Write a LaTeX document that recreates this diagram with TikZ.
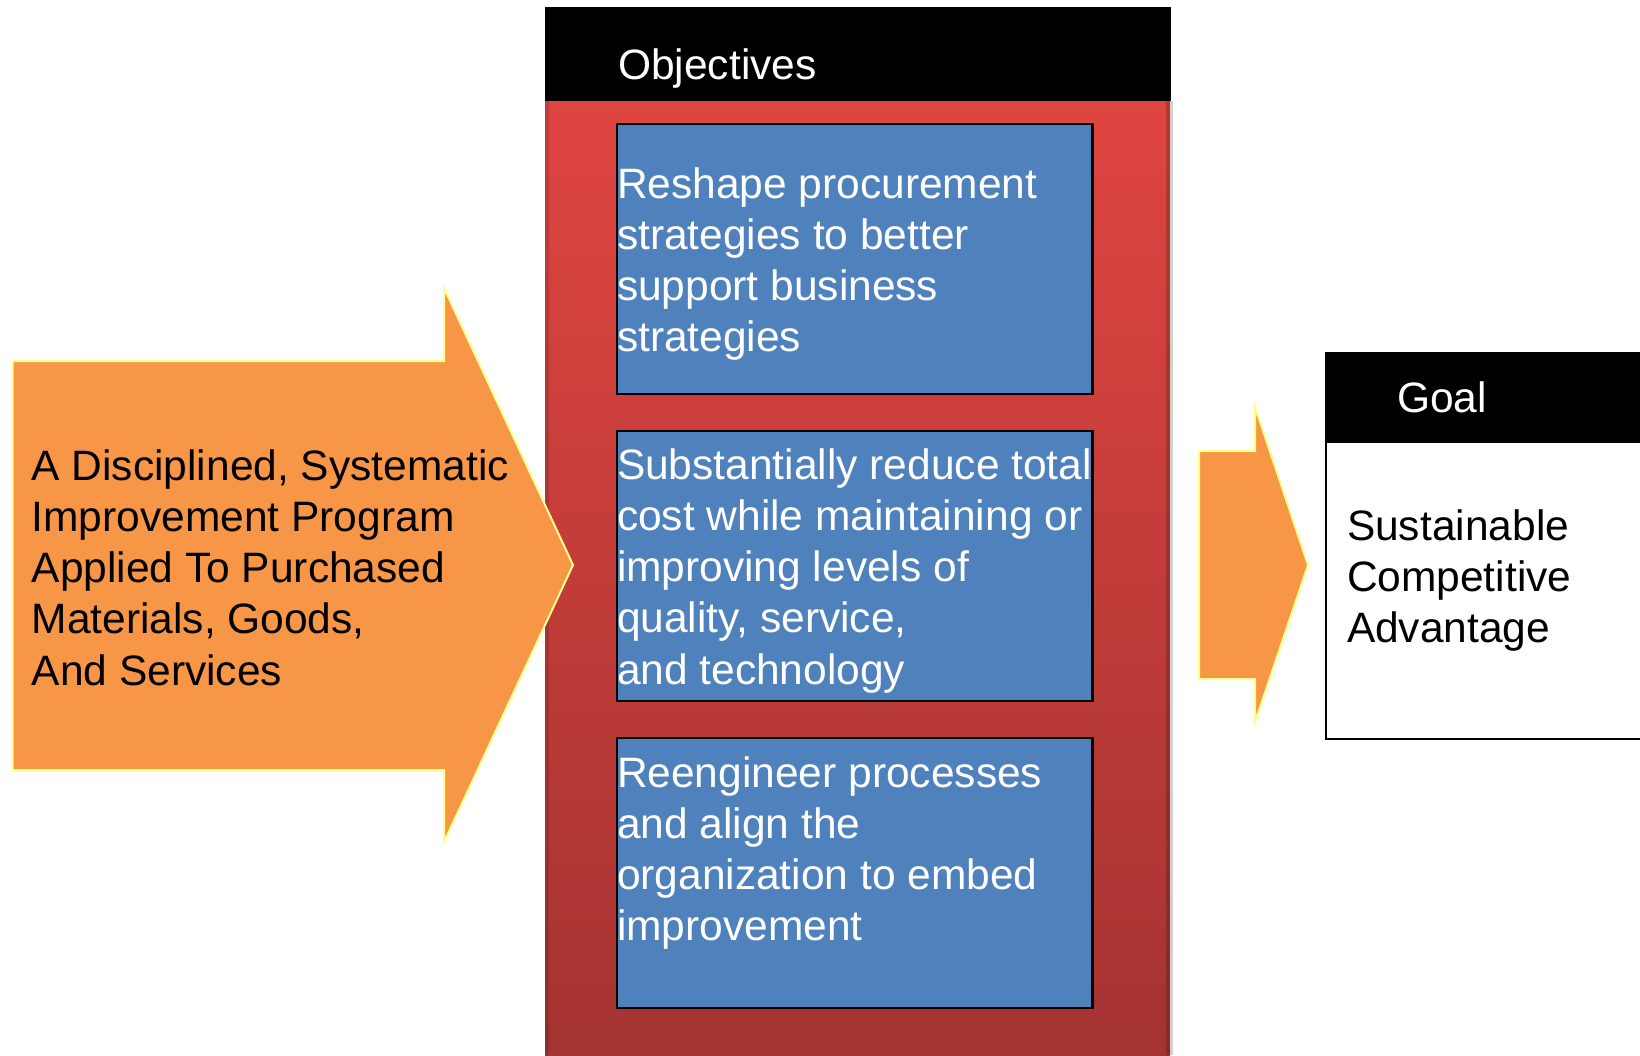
\documentclass[tikz,border=0pt]{standalone}
\usepackage{fontspec}
\setmainfont{Liberation Sans}
\definecolor{arroworange}{HTML}{F79646}
\definecolor{arrowedge}{HTML}{FFFF90}
\definecolor{objblue}{HTML}{4F81BD}
\definecolor{redtop}{HTML}{DF4541}
\definecolor{redbot}{HTML}{A43331}
\newcommand{\bigtext}{\fontsize{42.5}{51.3}\selectfont}
\newcommand{\lbx}[1]{\begin{minipage}[t]{600pt}\bigtext\raggedright #1\end{minipage}}
\tikzset{
  arrowshape/.style={fill=arroworange, draw=arrowedge, line width=2pt, line join=miter},
  bluebox/.style={draw=black, fill=objblue, line width=2.5pt, minimum width=475.5pt,
                  minimum height=270pt, anchor=north west, inner sep=0pt, outer sep=0pt},
  bodytext/.style={anchor=base west, inner sep=0pt, outer sep=0pt},
  headtext/.style={anchor=base west, inner sep=0pt, text=white, font=\bigtext},
}
\begin{document}
\begin{tikzpicture}[x=1pt,y=-1pt]
\useasboundingbox (0,0) rectangle (1640,1055);
% objectives panel
\shade[top color=redtop, bottom color=redbot] (545,101) rectangle (1170,1055);
\fill[black, opacity=0.12] (545,101) rectangle (549,1055);
\fill[black, opacity=0.18] (1166,101) rectangle (1170,1055);
\fill[black!18] (1170,101) rectangle (1172.5,1055);
\fill[black] (545,7) rectangle (1171,101);
\node[headtext] (objtitle) at (618,79) {Objectives};
\node[bluebox] (box1) at (617.2,124.2) {};
\node[bluebox] (box2) at (617.2,431.2) {};
\node[bluebox] (box3) at (617.2,738.2) {};
\node[bodytext, text=white] (obj1) at (617,198) {\lbx{Reshape procurement\\
strategies to better\\ support business\\ strategies}};
\node[bodytext, text=white] (obj2) at (617,479) {\lbx{Substantially reduce total\\
cost while maintaining or\\ improving levels of\\ quality, service,\\ and technology}};
\node[bodytext, text=white] (obj3) at (617,787) {\lbx{Reengineer processes\\
and align the\\ organization to embed\\ improvement}};
% left arrow (drawn over the panel edge)
\path[arrowshape] (12.7,361) -- (444,361) -- (444,288) -- (573,565) -- (444,842)
  -- (444,770) -- (12.7,770) -- cycle;
\node[bodytext] (program) at (31.7,480) {\lbx{A Disciplined, Systematic\\
Improvement Program\\ Applied To Purchased\\ Materials, Goods,\\ And Services}};
% small arrow
\path[arrowshape] (1199,451) -- (1255,451) -- (1255,407) -- (1308,565) -- (1255,722)
  -- (1255,679) -- (1199,679) -- cycle;
% goal box
\fill[black] (1325,352) rectangle (1642,443);
\draw[line width=2pt] (1326,443) -- (1326,739) -- (1645,739);
\node[headtext] (goaltitle) at (1397,412.7) {Goal};
\node[bodytext] (goal) at (1347,540) {\lbx{Sustainable\\ Competitive\\ Advantage}};
\end{tikzpicture}
\end{document}
